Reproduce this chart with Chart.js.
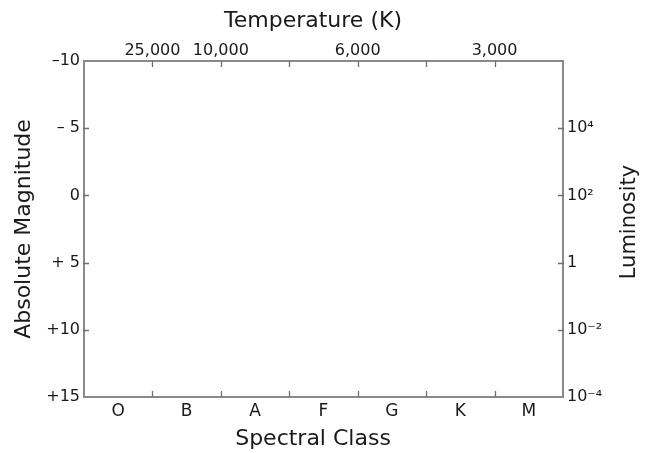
<!DOCTYPE html>
<html>
<head>
<meta charset="utf-8">
<script src="https://cdn.jsdelivr.net/npm/chart.js@4.4.1/dist/chart.umd.min.js"></script>
<style>
  html, body { margin: 0; padding: 0; background: #fff; }
  #wrap { width: 654px; height: 453px; }
</style>
</head>
<body>
<div id="wrap"><canvas id="hrChart"></canvas></div>
<script>
// Spectral classes along the bottom
const spectralClasses = ["O", "B", "A", "F", "G", "K", "M"];

// Absolute magnitude (left axis, brighter on top)
const magnitudeTicks = [-10, -5, 0, 5, 10, 15];
const magnitudeLabels = ["\u201310", "\u2013 5", "0", "+ 5", "+10", "+15"];

// Luminosity (right axis), same positions as magnitude
const luminosityTicks = [-5, 0, 5, 10, 15];
const luminosityLabels = ["10\u2074", "10\u00b2", "1", "10\u207b\u00b2", "10\u207b\u2074"];

// Temperature (top axis), placed on the class boundaries
const temperatureTicks = [1, 2, 3, 4, 5, 6];
const temperatureLabels = ["25,000", "10,000", "", "6,000", "", "3,000"];

const axisColor = "#8a8a8a";
const textColor = "#1a1a1a";
const fontFamily = "'DejaVu Sans', sans-serif";

// short tick marks pointing into the plot + the right-hand title
const innerTicks = {
  id: "innerTicks",
  afterDraw(chart) {
    const { ctx, chartArea: a, scales } = chart;
    const len = 6;
    ctx.save();
    ctx.strokeStyle = "#707070";
    ctx.lineWidth = 1.3;
    ctx.beginPath();
    for (let i = 1; i < spectralClasses.length; i++) {
      const x = Math.round((scales.x.getPixelForValue(i - 1) + scales.x.getPixelForValue(i)) / 2) + 0.5;
      ctx.moveTo(x, a.bottom);
      ctx.lineTo(x, a.bottom - len);
    }
    temperatureTicks.forEach((v) => {
      const x = Math.round(scales.x2.getPixelForValue(v)) + 0.5;
      ctx.moveTo(x, a.top);
      ctx.lineTo(x, a.top + len);
    });
    magnitudeTicks.slice(1, -1).forEach((v) => {
      const y = Math.round(scales.y.getPixelForValue(v)) + 0.5;
      ctx.moveTo(a.left - 1, y);
      ctx.lineTo(a.left + len - 1, y);
    });
    luminosityTicks.slice(0, -1).forEach((v) => {
      const y = Math.round(scales.y2.getPixelForValue(v)) + 0.5;
      ctx.moveTo(a.right + 1, y);
      ctx.lineTo(a.right - len + 1, y);
    });
    ctx.stroke();

    // Luminosity title reads bottom-to-top
    ctx.translate(630, (a.top + a.bottom) / 2 - 7);
    ctx.rotate(-Math.PI / 2);
    ctx.fillStyle = textColor;
    ctx.font = "21px " + fontFamily;
    ctx.textAlign = "center";
    ctx.textBaseline = "middle";
    ctx.fillText("Luminosity", 0, 0);
    ctx.restore();
  },
};

new Chart(document.getElementById("hrChart"), {
  type: "scatter",
  data: {
    labels: spectralClasses,
    datasets: [{ data: [] }],
  },
  options: {
    responsive: true,
    maintainAspectRatio: false,
    animation: false,
    layout: { padding: 0 },
    plugins: {
      legend: { display: false },
      tooltip: { enabled: false },
    },
    scales: {
      x: {
        type: "category",
        position: "bottom",
        offset: true,
        grid: { display: true, drawOnChartArea: false, drawTicks: false, offset: true },
        border: { display: true, color: axisColor, width: 2 },
        ticks: { color: textColor, font: { family: fontFamily, size: 17 }, padding: 4, maxRotation: 0 },
        // trailing spaces nudge the title a little left, like the original
        title: { display: true, text: "Spectral Class   ", color: textColor, font: { family: fontFamily, size: 22 }, padding: { top: 0, bottom: 1 } },
        afterFit: (s) => { s.height = 56; },
      },
      x2: {
        type: "linear",
        position: "top",
        min: 0,
        max: spectralClasses.length,
        grid: { display: true, drawOnChartArea: false, drawTicks: false },
        border: { display: true, color: axisColor, width: 2 },
        afterBuildTicks: (s) => { s.ticks = temperatureTicks.map((v) => ({ value: v })); },
        ticks: {
          color: textColor,
          font: { family: fontFamily, size: 16 },
          padding: 1,
          maxRotation: 0,
          autoSkip: false,
          callback: (v) => temperatureLabels[temperatureTicks.indexOf(v)],
        },
        title: { display: true, text: "Temperature (K)   ", color: textColor, font: { family: fontFamily, size: 22 }, padding: { top: 8, bottom: 0 } },
        afterFit: (s) => { s.height = 61; },
      },
      y: {
        type: "linear",
        position: "left",
        reverse: true,
        min: -10,
        max: 15,
        grid: { display: true, drawOnChartArea: false, drawTicks: false },
        border: { display: true, color: axisColor, width: 2 },
        afterBuildTicks: (s) => { s.ticks = magnitudeTicks.map((v) => ({ value: v })); },
        ticks: {
          color: textColor,
          font: { family: fontFamily, size: 16 },
          padding: 4,
          autoSkip: false,
          callback: (v) => magnitudeLabels[magnitudeTicks.indexOf(v)],
        },
        title: { display: true, text: "Absolute Magnitude", color: textColor, font: { family: fontFamily, size: 22 }, padding: { top: 11, bottom: 0 } },
        afterFit: (s) => { s.width = 84; },
      },
      y2: {
        type: "linear",
        position: "right",
        reverse: true,
        min: -10,
        max: 15,
        grid: { display: true, drawOnChartArea: false, drawTicks: false },
        border: { display: true, color: axisColor, width: 2 },
        afterBuildTicks: (s) => { s.ticks = luminosityTicks.map((v) => ({ value: v })); },
        ticks: {
          color: textColor,
          font: { family: fontFamily, size: 16 },
          padding: 4,
          autoSkip: false,
          callback: (v) => luminosityLabels[luminosityTicks.indexOf(v)],
        },
        afterFit: (s) => { s.width = 91; },
      },
    },
  },
  plugins: [innerTicks],
});
</script>
</body>
</html>
